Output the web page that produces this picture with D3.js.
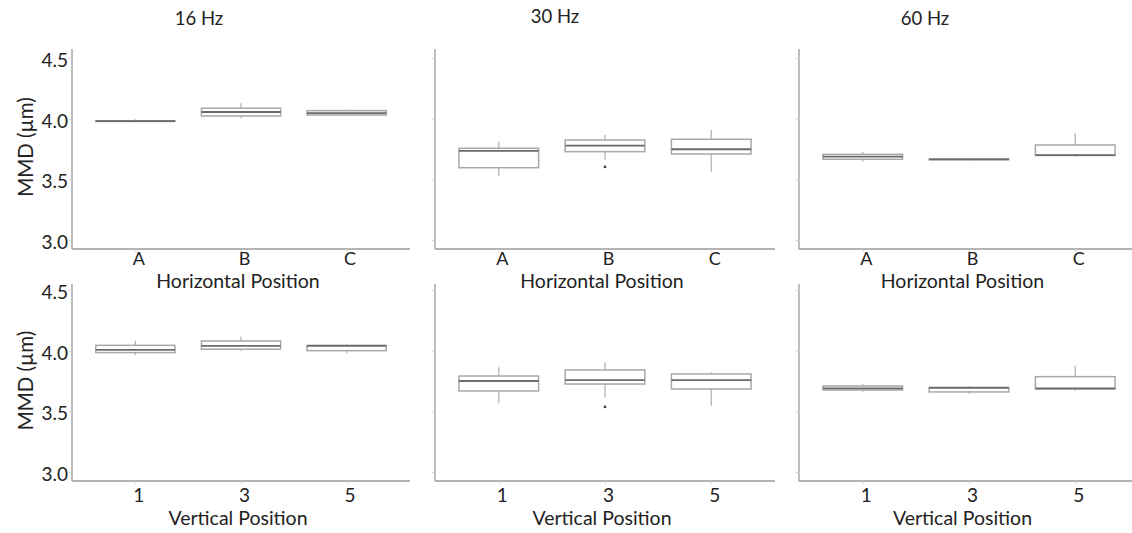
<!DOCTYPE html>
<html>
<head>
<meta charset="utf-8">
<script src="https://cdn.jsdelivr.net/npm/d3@7"></script>
<style>
  html, body { margin: 0; padding: 0; background: #fff; }
  svg { display: block; }
  text { font-family: Lato, "Noto Sans", sans-serif; fill: #222; }
</style>
</head>
<body>
<svg id="chart" width="1132" height="533"></svg>
<script>
// ---- data ----
const freqs = ["16 Hz", "30 Hz", "60 Hz"];
const horizCats = ["A", "B", "C"];
const vertCats = ["1", "3", "5"];
const yTicks = [3.0, 3.5, 4.0, 4.5];
const rowTitles = ["Horizontal Position", "Vertical Position"];
const yLabel = "MMD (\u00b5m)";

// box stats: [min, q1, median, q3, max]
const horiz16 = [[3.970, 3.977, 3.980, 3.983, 3.995], [4.003, 4.022, 4.055, 4.086, 4.127], [4.025, 4.030, 4.045, 4.066, 4.077]];
const horiz30 = [[3.528, 3.596, 3.734, 3.756, 3.810], [3.660, 3.728, 3.777, 3.824, 3.866], [3.563, 3.709, 3.748, 3.830, 3.907]];
const horiz60 = [[3.645, 3.665, 3.687, 3.706, 3.728], [3.655, 3.662, 3.665, 3.668, 3.675], [3.687, 3.697, 3.700, 3.783, 3.880]];
const vert16 = [[3.965, 3.984, 4.006, 4.044, 4.082], [3.997, 4.012, 4.039, 4.080, 4.115], [3.978, 4.000, 4.040, 4.044, 4.050]];
const vert30 = [[3.566, 3.668, 3.750, 3.791, 3.863], [3.613, 3.725, 3.758, 3.841, 3.904], [3.547, 3.684, 3.758, 3.808, 3.824]];
const vert60 = [[3.662, 3.676, 3.690, 3.709, 3.725], [3.645, 3.660, 3.694, 3.698, 3.709], [3.670, 3.684, 3.690, 3.786, 3.876]];
// outliers: [categoryIndex, value]
const horiz30Outliers = [[1, 3.602]];
const vert30Outliers = [[1, 3.536]];

// ---- layout ----
const svg = d3.select("#chart");
const FONT = "Lato, 'Noto Sans', sans-serif";
const colRanges = [[72, 410], [435, 775], [799, 1139]];
const rows = [
  { cats: horizCats, sets: [horiz16, horiz30, horiz60], outs: [[], horiz30Outliers, []], yr: [240, 58], axisBottom: 249, axisTop: 49, tickBase: 265, titleBase: 288, tickFont: 18 },
  { cats: vertCats, sets: [vert16, vert30, vert60], outs: [[], vert30Outliers, []], yr: [472, 290], axisBottom: 481, axisTop: 284, tickBase: 502, titleBase: 525, tickFont: 19 }
];

const axisColor = "#9a9a9a";
const boxColor = "#a8a8a8";
const medColor = "#6a6a6a";

rows.forEach((row, ri) => {
  const y = d3.scaleLinear().domain([3.0, 4.5]).range(row.yr);
  colRanges.forEach((cr, ci) => {
    const x = d3.scalePoint().domain(row.cats).range(cr).padding(0.6);
    const bw = x.step() * 0.75;
    const g = svg.append("g");

    // y axis line
    g.append("line").attr("x1", cr[0]).attr("x2", cr[0])
      .attr("y1", row.axisTop).attr("y2", row.axisBottom)
      .attr("stroke", axisColor).attr("stroke-width", 1.3);
    // x axis line
    g.append("line").attr("x1", cr[0]).attr("x2", cr[1])
      .attr("y1", row.axisBottom).attr("y2", row.axisBottom)
      .attr("stroke", axisColor).attr("stroke-width", 1.3);

    // y ticks
    const yAx = d3.axisLeft(y).tickValues(yTicks).tickSize(3).tickFormat(ci === 0 ? d3.format(".1f") : "");
    const ya = g.append("g").attr("transform", `translate(${cr[0]},0)`).call(yAx);
    ya.select(".domain").remove();
    ya.selectAll(".tick line").attr("stroke", "#d0d0d0");
    ya.selectAll(".tick text").attr("font-size", 19).attr("fill", "#222")
      .attr("font-family", FONT).attr("x", -4).attr("dy", "0.45em");

    // x ticks
    const xAx = d3.axisBottom(x).tickSize(3).tickPadding(3);
    const xa = g.append("g").attr("transform", `translate(0,${row.axisBottom})`).call(xAx);
    xa.select(".domain").remove();
    xa.selectAll(".tick line").attr("stroke", "#d0d0d0");
    xa.selectAll(".tick text").attr("font-size", row.tickFont).attr("fill", "#222")
      .attr("font-family", FONT)
      .attr("x", 3).attr("y", row.tickBase - row.axisBottom).attr("dy", null);

    // axis title
    g.append("text").attr("x", (cr[0] + Math.min(cr[1], 1132)) / 2 - 3)
      .attr("y", row.titleBase)
      .attr("text-anchor", "middle").attr("font-size", 19.5)
      .text(rowTitles[ri]);

    // boxes
    const data = row.sets[ci];
    data.forEach((s, k) => {
      const cx = x(row.cats[k]);
      const [mn, q1, md, q3, mx] = s;
      g.append("line").attr("x1", cx).attr("x2", cx).attr("y1", y(mx)).attr("y2", y(q3))
        .attr("stroke", "#b5b5b5").attr("stroke-width", 1.3);
      g.append("line").attr("x1", cx).attr("x2", cx).attr("y1", y(q1)).attr("y2", y(mn))
        .attr("stroke", "#b5b5b5").attr("stroke-width", 1.3);
      g.append("rect").attr("x", cx - bw / 2).attr("width", bw)
        .attr("y", y(q3)).attr("height", Math.max(y(q1) - y(q3), 0.5))
        .attr("fill", "#fff").attr("stroke", boxColor).attr("stroke-width", 1.5);
      g.append("line").attr("x1", cx - bw / 2).attr("x2", cx + bw / 2)
        .attr("y1", y(md)).attr("y2", y(md))
        .attr("stroke", medColor).attr("stroke-width", 1.8);
    });
    row.outs[ci].forEach(o => {
      g.append("circle").attr("cx", x(row.cats[o[0]])).attr("cy", y(o[1])).attr("r", 1.4).attr("fill", "#444");
    });

    // y label
    if (ci === 0) {
      const ymid = (row.axisTop + row.axisBottom) / 2 - 2;
      g.append("text").attr("transform", `translate(33,${ymid}) rotate(-90)`)
        .attr("text-anchor", "middle").attr("font-size", 20.5).text(yLabel);
    }
  });
});

// frequency titles
const titleX = [199, 555, 925];
const titleY = [25, 23, 25];
freqs.forEach((f, i) => {
  svg.append("text").attr("x", titleX[i]).attr("y", titleY[i]).attr("text-anchor", "middle")
    .attr("font-size", 18.5).text(f);
});
</script>
</body>
</html>
